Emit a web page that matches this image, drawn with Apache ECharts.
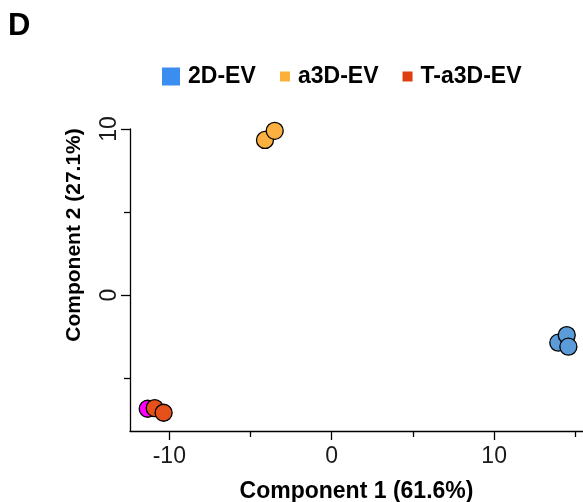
<!DOCTYPE html>
<html>
<head>
<meta charset="utf-8">
<script src="https://cdn.jsdelivr.net/npm/echarts@6/dist/echarts.min.js"></script>
<style>html,body{margin:0;padding:0;background:#fff}#c{width:583px;height:502px}</style>
</head>
<body>
<div id="c"></div>
<script>
// Data
const groups = ['2D-EV', 'a3D-EV', 'T-a3D-EV'];
const ev2dX = [13.95, 14.47, 14.57];
const ev2dY = [-2.87, -2.41, -3.11];
const a3dX = [-4.11, -3.51];
const a3dY = [9.34, 9.89];
const ta3dX = [-10.9, -10.35];
const ta3dY = [-6.81, -7.09];
const otherX = [-11.33];
const otherY = [-6.85];
const xMajorTicks = [-10, 0, 10];
const xMinorTicks = [-5, 5, 15];
const yMajorTicks = [0, 10];
const yMinorTicks = [-5, 5];

const FONT = 'Liberation Sans, Arial, Helvetica, sans-serif';
const zip = (xs, ys) => xs.map((x, i) => [x, ys[i]]);
const xMin = -12.42, xMax = 15.47, yMin = -8.19, yMax = 10;

const chart = echarts.init(document.getElementById('c'));
const axisLine = { onZero: false, lineStyle: { color: '#000', width: 1.3 } };
const markerBase = { borderColor: '#000', borderWidth: 1.3, opacity: 1 };

chart.setOption({
  animation: false,
  backgroundColor: '#fff',
  title: {
    text: 'D', left: 3, top: 6,
    textStyle: { fontFamily: FONT, fontWeight: 'bold', fontSize: 31, color: '#000' }
  },
  legend: [
    {
      data: [{ name: groups[0], itemStyle: { color: '#3b8eef', opacity: 1 } }],
      left: 162, top: 65, padding: 0,
      itemWidth: 18, itemHeight: 18, icon: 'rect',
      itemStyle: { borderWidth: 0, opacity: 1 },
      selectedMode: false,
      textStyle: { fontFamily: FONT, fontWeight: 'bold', fontSize: 23, color: '#000', padding: [0, 0, 0, 3] }
    },
    {
      data: [
        { name: groups[1], itemStyle: { color: '#fbb03b', opacity: 1 } },
        { name: groups[2], itemStyle: { color: '#de3f10', opacity: 1 } }
      ],
      left: 280, top: 65, padding: 0,
      itemWidth: 10, itemHeight: 10, itemGap: 24, icon: 'rect',
      itemStyle: { borderWidth: 0, opacity: 1 },
      selectedMode: false,
      textStyle: { fontFamily: FONT, fontWeight: 'bold', fontSize: 23, color: '#000', padding: [0, 0, 0, 3] }
    }
  ],
  grid: { left: 130, right: 0, top: 129, bottom: 71, containLabel: false, outerBoundsMode: 'none' },
  xAxis: [
    {
      type: 'value', min: xMin, max: xMax, position: 'bottom',
      axisLine: axisLine,
      axisTick: { show: true, customValues: xMajorTicks, length: 9, lineStyle: { color: '#000', width: 1.3 } },
      axisLabel: { customValues: xMajorTicks, margin: 14, fontFamily: FONT, fontSize: 23, color: '#1a1a1a' },
      splitLine: { show: false },
      name: 'Component 1 (61.6%)', nameLocation: 'middle', nameGap: 49,
      nameTextStyle: { fontFamily: FONT, fontWeight: 'bold', fontSize: 23, color: '#000' }
    },
    {
      type: 'value', min: xMin, max: xMax, position: 'bottom',
      axisLine: { show: false, onZero: false },
      axisTick: { show: true, customValues: xMinorTicks, length: 6, lineStyle: { color: '#000', width: 1.3 } },
      axisLabel: { show: false },
      splitLine: { show: false }
    }
  ],
  yAxis: [
    {
      type: 'value', min: yMin, max: yMax, position: 'left',
      axisLine: axisLine,
      axisTick: { show: true, customValues: yMajorTicks, length: 9, lineStyle: { color: '#000', width: 1.3 } },
      axisLabel: { customValues: yMajorTicks, rotate: 90, margin: 9, fontFamily: FONT, fontSize: 23, color: '#1a1a1a' },
      splitLine: { show: false },
      name: 'Component 2 (27.1%)', nameLocation: 'middle', nameGap: 45,
      nameTextStyle: { fontFamily: FONT, fontWeight: 'bold', fontSize: 21, color: '#000', padding: [0, 0, 0, 90] }
    },
    {
      type: 'value', min: yMin, max: yMax, position: 'left',
      axisLine: { show: false, onZero: false },
      axisTick: { show: true, customValues: yMinorTicks, length: 6, lineStyle: { color: '#000', width: 1.3 } },
      axisLabel: { show: false },
      splitLine: { show: false }
    }
  ],
  series: [
    {
      name: groups[0], type: 'scatter', symbolSize: 17, xAxisIndex: 0, yAxisIndex: 0,
      itemStyle: Object.assign({ color: '#5b9bd8' }, markerBase),
      data: zip(ev2dX, ev2dY)
    },
    {
      name: groups[1], type: 'scatter', symbolSize: 17, xAxisIndex: 0, yAxisIndex: 0,
      itemStyle: Object.assign({ color: '#fbb040' }, markerBase),
      data: zip(a3dX, a3dY)
    },
    {
      name: 'other', type: 'scatter', symbolSize: 17, xAxisIndex: 0, yAxisIndex: 0,
      itemStyle: Object.assign({ color: '#ff00ff' }, markerBase),
      data: zip(otherX, otherY)
    },
    {
      name: groups[2], type: 'scatter', symbolSize: 17, xAxisIndex: 0, yAxisIndex: 0,
      itemStyle: Object.assign({ color: '#e5501b' }, markerBase),
      data: zip(ta3dX, ta3dY)
    }
  ]
});
</script>
</body>
</html>
